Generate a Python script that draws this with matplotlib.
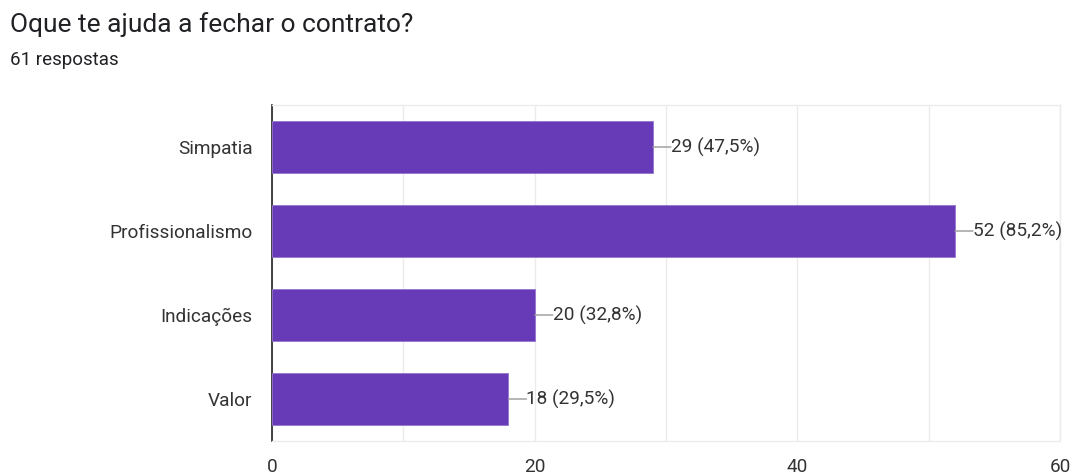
import matplotlib
matplotlib.use("Agg")
import matplotlib.pyplot as plt
from matplotlib.ticker import MultipleLocator

categories = ["Simpatia", "Profissionalismo", "Indicações", "Valor"]
counts = [29, 52, 20, 18]
percents = ["47,5%", "85,2%", "32,8%", "29,5%"]
xticks = [0, 20, 40, 60]

plt.rcParams['font.family'] = ['Roboto', 'DejaVu Sans']

fig = plt.figure(figsize=(10.73, 4.75), dpi=100)
ax = fig.add_axes([272/1073, 1-441/475, (1060-272)/1073, (441-105)/475])

y = list(range(len(categories)))
ax.barh(y, counts, height=0.62, color="#673AB7", edgecolor="#9575CD", linewidth=0.6, zorder=3)
ax.set_ylim(len(categories)-0.5, -0.5)
ax.set_xlim(0, 60)
ax.set_yticks(y)
ax.set_yticklabels(categories, fontsize=13.7, color="#333333")
ax.set_xticks(xticks)
ax.set_xticklabels([str(t) for t in xticks], fontsize=13.7, color="#333333")
ax.xaxis.set_minor_locator(MultipleLocator(10))
ax.grid(axis="x", which="both", color="#ebebeb", linewidth=1, zorder=0)
ax.tick_params(axis="both", which="both", length=0)
ax.tick_params(axis="y", pad=14)
ax.tick_params(axis="x", pad=12)

for s in ["top", "right", "bottom"]:
    ax.spines[s].set_color("#ebebeb")
    ax.spines[s].set_linewidth(1)
ax.spines["left"].set_color("#333333")
ax.spines["left"].set_linewidth(1.3)

for i, (c, p) in enumerate(zip(counts, percents)):
    ax.annotate(f"{c} ({p})", xy=(c, i), xytext=(13, 0), textcoords="offset points",
                va="center", ha="left", fontsize=13.7, color="#333333",
                bbox=dict(boxstyle="square,pad=0", fc="none", ec="none"),
                arrowprops=dict(arrowstyle="-", color="#999999", lw=1, shrinkA=0, shrinkB=0))

fig.text(10/1073, 1-25/475, "Oque te ajuda a fechar o contrato?", fontsize=19,
         color="#202124", ha="left", va="center")
fig.text(10/1073, 1-60/475, "61 respostas", fontsize=13.5, color="#202124",
         ha="left", va="center")

fig.savefig("out.png", dpi=100)
